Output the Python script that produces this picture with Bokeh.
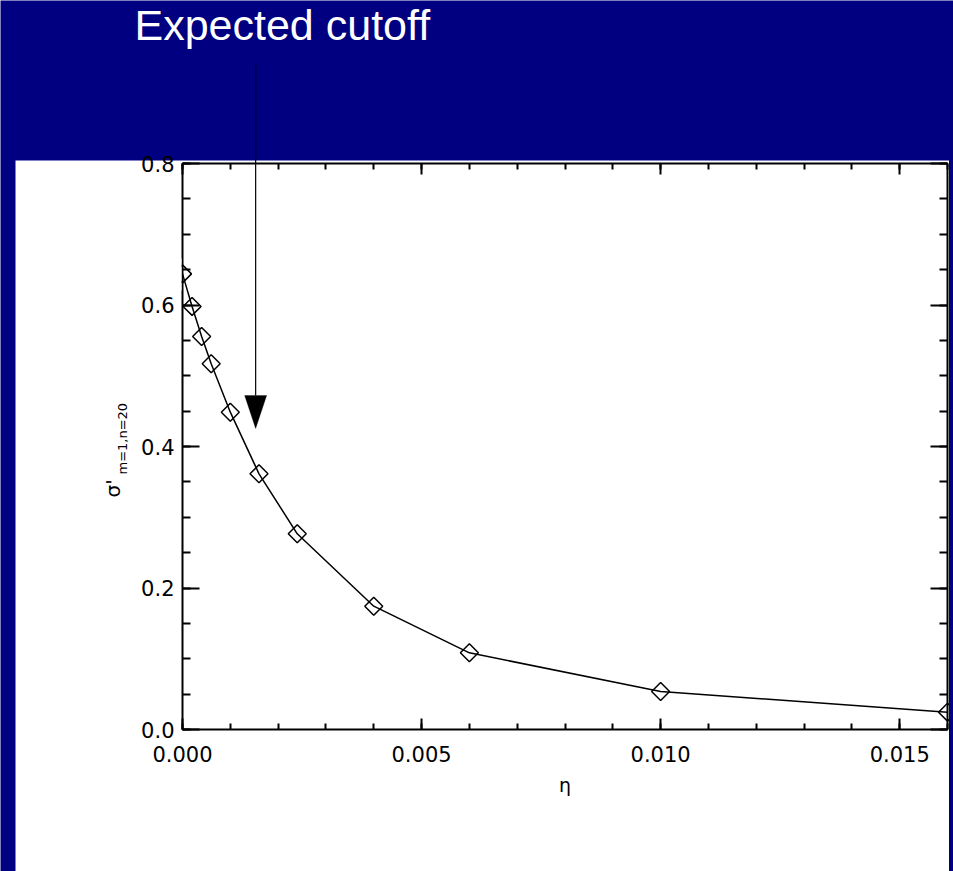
import numpy as np
from bokeh.plotting import figure
from bokeh.models import (LinearAxis, SingleIntervalTicker, PrintfTickFormatter, Range1d,
                          BoxAnnotation, Label, Arrow, PolyAnnotation)
from bokeh.embed import file_html
from bokeh.resources import INLINE

# ---- data ----
eta = [0.0, 0.0002, 0.0004, 0.0006, 0.0010, 0.0016, 0.0024, 0.0040, 0.0060, 0.0100, 0.0160]
sigma = [0.644, 0.598, 0.5555, 0.517, 0.4485, 0.3614, 0.2766, 0.1743, 0.1084, 0.0537, 0.0245]
cutoff_eta = 0.00153
annotation_text = "Expected cutoff"
x_label = "η"
y_label_main = "σ'"
y_label_sub = "m=1,n=20"

# ---- layout constants (pixel positions of the inner plot box) ----
W, H = 953, 871
FL, FR, FT, FB = 182, 947, 163, 729
X0, X1, Y0, Y1 = 0.0, 0.016, 0.0, 0.8
NAVY = "#000080"


def dx(px):
    return X0 + (px - FL) / (FR - FL) * (X1 - X0)


def dy(py):
    return Y0 + (FB - py) / (FB - FT) * (Y1 - Y0)


p = figure(width=W, height=H, output_backend="svg", toolbar_location=None,
           x_range=Range1d(dx(0), dx(W)), y_range=Range1d(dy(H), dy(0)),
           x_axis_type=None, y_axis_type=None,
           min_border=0)
p.border_fill_color = NAVY
p.background_fill_color = NAVY
p.outline_line_color = None
p.xgrid.visible = False
p.ygrid.visible = False

# white panel behind the chart
p.add_layout(BoxAnnotation(left=dx(15), right=dx(948.5), top=dy(160), bottom=dy(H + 10),
                           fill_color="white", fill_alpha=1.0, line_color=None,
                           level="underlay"))

xt = SingleIntervalTicker(interval=0.005, num_minor_ticks=5)
yt = SingleIntervalTicker(interval=0.2, num_minor_ticks=4)

TICK_FONT = "DejaVu Sans"


def style(ax, major_in, minor_in, labels=True):
    ax.axis_line_color = "black"
    ax.axis_line_width = 2
    ax.major_tick_in = major_in
    ax.major_tick_out = 0
    ax.minor_tick_in = minor_in
    ax.minor_tick_out = 0
    ax.major_tick_line_color = "black"
    ax.minor_tick_line_color = "black"
    ax.major_tick_line_width = 2
    ax.minor_tick_line_width = 2
    if labels:
        ax.major_label_text_font = TICK_FONT
        ax.major_label_text_font_size = "21px"
        ax.major_label_text_color = "black"
    else:
        ax.major_label_text_font_size = "0px"
        ax.major_label_text_color = None
        ax.major_label_standoff = 0


xb = LinearAxis(ticker=xt, formatter=PrintfTickFormatter(format="%.3f"),
                fixed_location=Y0, bounds=(X0, X1))
style(xb, 11, 6)
xb.major_label_standoff = 16
p.add_layout(xb, "below")

xa = LinearAxis(ticker=xt, fixed_location=Y1, bounds=(X0, X1))
style(xa, 11, 6, labels=False)
p.add_layout(xa, "above")

yl = LinearAxis(ticker=yt, formatter=PrintfTickFormatter(format="%.1f"),
                fixed_location=X0, bounds=(Y0, Y1))
style(yl, 17, 8)
yl.major_label_standoff = 8
p.add_layout(yl, "left")

yr = LinearAxis(ticker=yt, fixed_location=X1, bounds=(Y0, Y1))
style(yr, 17, 8, labels=False)
p.add_layout(yr, "right")

# data
p.line(eta, sigma, line_color="black", line_width=1.5)
p.scatter(eta, sigma, marker="square", angle=np.pi / 4, size=12.7,
          fill_alpha=0, line_color="black", line_width=1.5)

# clip the markers that sit on the left and right edges of the box
p.add_layout(BoxAnnotation(left=dx(948.5), right=dx(W + 10), top=dy(150), bottom=dy(H + 10),
                           fill_color=NAVY, fill_alpha=1.0, line_color=None, level="overlay"))
p.add_layout(BoxAnnotation(left=dx(168), right=dx(181), top=dy(258), bottom=dy(290),
                           fill_color="white", fill_alpha=1.0, line_color=None, level="overlay"))

# axis titles
p.add_layout(Label(x=dx(564.5), y=dy(784), text=x_label,
                   text_align="center", text_baseline="alphabetic",
                   text_font=TICK_FONT, text_font_size="19px", text_color="black"))
p.add_layout(Label(x=dx(112), y=dy(497), text=y_label_main, angle=np.pi / 2,
                   text_align="left", text_baseline="alphabetic",
                   text_font=TICK_FONT, text_font_size="20px", text_color="black"))
p.add_layout(Label(x=dx(122), y=dy(474), text=y_label_sub, angle=np.pi / 2,
                   text_align="left", text_baseline="alphabetic",
                   text_font=TICK_FONT, text_font_size="13px", text_color="black"))

# annotation: text + arrow
p.add_layout(Label(x=dx(134), y=dy(24.5), text=annotation_text,
                   text_align="left", text_baseline="alphabetic",
                   text_font="Liberation Sans", text_font_size="43px", text_color="white"))
head_top = dy(395)
head_tip = dy(428)
half_w = dx(FL + 11) - dx(FL)
p.add_layout(Arrow(end=None, x_start=cutoff_eta, y_start=dy(64),
                   x_end=cutoff_eta, y_end=head_top, line_color="black", line_width=1.2))
p.add_layout(PolyAnnotation(xs=[cutoff_eta - half_w, cutoff_eta + half_w, cutoff_eta],
                            ys=[head_top, head_top, head_tip],
                            fill_color="black", fill_alpha=1.0, line_color="black"))

open("out.html", "w").write(file_html(p, INLINE))
